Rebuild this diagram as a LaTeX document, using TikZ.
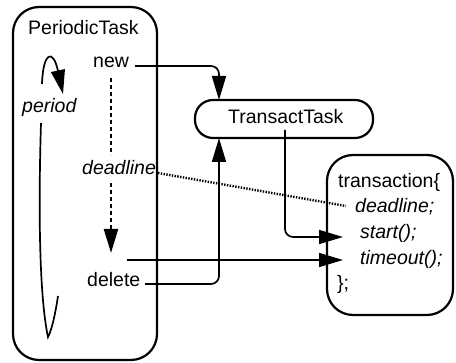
\documentclass[tikz,border=0pt]{standalone}
\usepackage{fontspec}
\setmainfont{Liberation Sans}
\usetikzlibrary{arrows.meta}

\begin{document}
\begin{tikzpicture}[x=1pt,y=-1pt,
  box/.style={draw, line width=2.2pt},
  lbl/.style={font=\fontsize{19.5}{23}\selectfont, inner sep=0pt, anchor=base west},
  ilbl/.style={lbl, font=\fontsize{19.5}{23}\selectfont\itshape},
  tip/.style={-{Triangle[length=24pt,width=14pt]}},
  conn/.style={line width=1.7pt, rounded corners=8pt},
]
\useasboundingbox (0,0) rectangle (456,363);

% containers
\draw[box, rounded corners=26pt] (13,7) rectangle (157,360);
\draw[box, rounded corners=18pt] (195,100) rectangle (373,138);
\draw[box, rounded corners=26pt] (327,155) rectangle (453,315);
\coordinate (ttTop) at (219,100);
\coordinate (ttBot) at (219,138);

% labels
\node[lbl]  (pt)   at (28,35)   {PeriodicTask};
\node[lbl]  (new)  at (93,68)   {new};
\node[ilbl] (per)  at (22,113)  {period};
\node[ilbl] (dl)   at (82,175)  {deadline};
\node[lbl]  (del)  at (87,287)  {delete};
\node[lbl]  (tt)   at (228,124) {TransactTask};
\node[lbl]  (trx)  at (338,188) {transaction\{};
\node[ilbl] (tdl)  at (355,213) {deadline;};
\node[ilbl] (st)   at (360,239) {start();};
\node[ilbl] (to)   at (360,265) {timeout();};
\node[lbl]  (cl)   at (337,290) {\};};

% period cycle
\draw[line width=1.7pt] (41,123) .. controls (38,220) and (40,300) .. (48,337)
      .. controls (52,330) and (56,310) .. (58,296);
\draw[line width=1.7pt, tip] (42,84) .. controls (43,52) and (53,48) .. (63,94);

% new -> delete (dashed, interrupted by deadline)
\draw[line width=2.2pt, dash pattern=on 4pt off 3pt] (111,78) -- (111,155);
\draw[line width=2.2pt, dash pattern=on 4pt off 3pt, tip] (111,183) -- (111,253);

% creation and deletion of TransactTask
\coordinate (newEnd) at (135,66);
\coordinate (delEnd) at (145,284);
\draw[conn, tip] (newEnd) -- (219,66) -- (ttTop);
\draw[conn, tip] (delEnd) -- (219,284) -- (ttBot);

% TransactTask -> start()
\coordinate (ttSrc) at (285,130);
\draw[conn, tip] (ttSrc) -- (285,237) -- (343,237);

% delete -> timeout()
\coordinate (delSrc) at (127,260);
\draw[line width=1.7pt, tip] (delSrc) -- (343,260);

% deadline binding
\draw[line width=2.4pt, dash pattern=on 1.4pt off 1.4pt] (158,173) -- (346,206);
\end{tikzpicture}
\end{document}
